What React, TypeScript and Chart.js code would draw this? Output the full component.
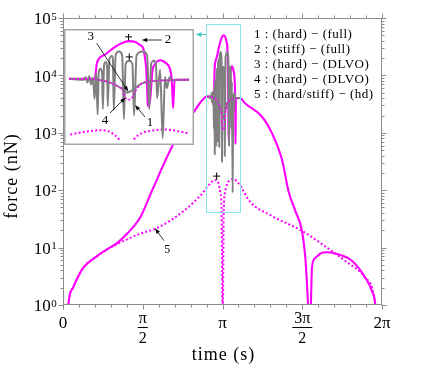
import React, { useEffect, useRef } from 'react';
import { Chart, registerables } from 'chart.js';

Chart.register(...registerables);

// time (rad), force (nN)
// 2 : (stiff) − (full)  — magenta solid (also the common outer curve)
const stiffFull: [number, number][] = [
  [0.09, 0.5], [0.105, 1.0], [0.197, 2.0], [0.394, 4.4], [0.67, 7.1], [0.867, 9.3], [1.064, 12],
  [1.261, 17.4], [1.517, 33], [1.753, 98], [2.167, 617], [2.561, 2190], [2.699, 3310],
  [2.834, 4300], [2.914, 4300], [2.974, 4300], [2.984, 11200], [2.9905, 14450], [3.033, 21400],
  [3.074, 31900], [3.116, 43000], [3.158, 50200], [3.194, 47300], [3.219, 38900], [3.236, 31900],
  [3.244, 19400], [3.253, 7350], [3.258, 1790], [3.261, 720], [3.274, 1160], [3.286, 7350],
  [3.299, 11100], [3.328, 14400], [3.361, 11800], [3.379, 8770], [3.389, 4840], [3.394, 1870],
  [3.398, 640], [3.406, 4050], [3.484, 4050], [3.59, 3240], [3.92, 1905], [4.117, 977],
  [4.314, 339], [4.446, 93], [4.576, 43.7], [4.707, 19.5], [4.773, 6.6], [4.806, 2.3],
  [4.845, 0.5], [4.865, 0.3], [4.904, 4.5], [4.969, 6.6], [5.1, 8.1], [5.2, 8.3], [5.43, 7.6],
  [5.69, 5.9], [5.954, 3.0], [6.086, 1.74], [6.151, 1.0], [6.17, 0.5],
];

// 1 : (hard) − (full) — gray solid
const hardFull: [number, number][] = [
  [2.834, 4300], [2.914, 4050], [2.924, 4840], [2.934, 3380], [2.944, 5130], [2.954, 3010],
  [2.964, 4560], [2.9725, 1160], [2.9815, 6140], [2.989, 421], [2.995, 6500], [3.0055, 8260],
  [3.013, 6500], [3.0175, 601], [3.024, 10500], [3.034, 13000], [3.04, 10000], [3.044, 720],
  [3.053, 15500], [3.0665, 19000], [3.072, 15000], [3.0765, 568], [3.087, 21000], [3.1055, 25600],
  [3.122, 20000], [3.1315, 313], [3.141, 11500], [3.159, 14100], [3.177, 11500], [3.1865, 396],
  [3.2, 20000], [3.234, 25600], [3.257, 20000], [3.269, 601], [3.279, 11500], [3.294, 14100],
  [3.305, 10500], [3.3115, 1230], [3.3275, 7780], [3.3415, 90], [3.354, 4840], [3.364, 2370],
  [3.379, 4840], [3.394, 3810], [3.42, 4050], [3.484, 4050],
];

// 3 : (hard) − (DLVO) — gray solid
const hardDLVO: [number, number][] = [
  [2.834, 4300], [2.989, 4050], [3.039, 3590], [3.079, 3010], [3.114, 2370], [3.134, 1980],
  [3.149, 1760], [3.164, 1870], [3.179, 2100], [3.199, 2510], [3.229, 3190], [3.264, 3590],
  [3.314, 3810], [3.484, 4050],
];

// 4 : (hard) − (DLVO) — magenta
const hardDLVO2: [number, number][] = [
  [2.834, 4300], [2.989, 4050], [3.039, 3590], [3.079, 3010], [3.114, 2370], [3.124, 2100],
  [3.139, 1280], [3.1555, 1110], [3.1725, 1160], [3.1805, 1410], [3.1975, 2100], [3.229, 3190],
  [3.264, 3590], [3.314, 3810], [3.484, 4050],
];

// 5 : (hard/stiff) − (hd) — magenta dotted
const hd: [number, number][] = [
  [0.09, 0.5], [0.105, 1.0], [0.197, 2.0], [0.394, 4.4], [0.67, 7.1], [0.867, 9.3], [1.064, 11.5],
  [1.517, 17.4], [1.852, 21.9], [2.364, 42.7], [2.797, 100], [2.834, 112], [3.008, 151],
  [3.06, 132], [3.1, 89], [3.125, 40], [3.145, 0.3], [3.165, 40], [3.19, 89], [3.23, 126],
  [3.3, 151], [3.36, 158], [3.444, 135], [3.484, 123], [3.683, 63], [4.077, 37], [4.71, 19.5],
  [5.234, 9.5], [5.554, 5.9], [5.95, 3.0], [6.151, 1.0], [6.17, 0.5],
];

const crossMain: [number, number][] = [[3.026, 176]];
const crossInset: [number, number][] = [[3.1565, 66400], [3.1605, 17950]];

const legendLines = [
  '1 : (hard) − (full)',
  '2 : (stiff) − (full)',
  '3 : (hard) − (DLVO)',
  '4 : (hard) − (DLVO)',
  '5 : (hard/stiff) − (hd)',
];
const yExponents = ['0', '1', '2', '3', '4', '5'];

const MAG = '#ff00ff';
const GRAY = '#808080';
const AXIS = '#8c8c8c';
const SERIF = "'Liberation Serif', 'DejaVu Serif', serif";

const xy = (a: [number, number][]) => a.map(([x, y]) => ({ x, y }));

function arrow(ctx: CanvasRenderingContext2D, x1: number, y1: number, x2: number, y2: number, color: string, lw = 0.8, hl = 6, hw = 2.2) {
  const a = Math.atan2(y2 - y1, x2 - x1);
  const c = Math.cos(a), s = Math.sin(a);
  ctx.strokeStyle = color;
  ctx.fillStyle = color;
  ctx.lineWidth = lw;
  ctx.beginPath();
  ctx.moveTo(x1, y1);
  ctx.lineTo(x2 - hl * c * 0.8, y2 - hl * s * 0.8);
  ctx.stroke();
  ctx.beginPath();
  ctx.moveTo(x2, y2);
  ctx.lineTo(x2 - hl * c + hw * s, y2 - hl * s - hw * c);
  ctx.lineTo(x2 - hl * c - hw * s, y2 - hl * s + hw * c);
  ctx.closePath();
  ctx.fill();
}

function datasets(crosses: [number, number][]) {
  const base = { pointRadius: 0, borderWidth: 2.1, cubicInterpolationMode: 'monotone' as const, fill: false };
  return [
    { ...base, data: xy(hd), borderColor: MAG, borderWidth: 2, borderDash: [2, 2.2], order: 5 },
    { ...base, data: xy(stiffFull), borderColor: MAG, order: 4 },
    { ...base, data: xy(hardFull), borderColor: GRAY, borderWidth: 2, order: 3 },
    { ...base, data: xy(hardDLVO), borderColor: GRAY, borderWidth: 2, order: 2 },
    { ...base, data: xy(hardDLVO2), borderColor: MAG, borderWidth: 1.6, borderDash: [2, 2], order: 1 },
    {
      data: xy(crosses), showLine: false, pointStyle: 'cross', pointRadius: 3.5,
      pointBorderColor: '#000', pointBorderWidth: 1, borderColor: '#000', order: 0,
    },
  ];
}

const mainPlugin = {
  id: 'mainDeco',
  afterDraw(chart: any) {
    const ctx: CanvasRenderingContext2D = chart.ctx;
    const ca = chart.chartArea;
    const xs = chart.scales.x;
    const ys = chart.scales.y;
    ctx.save();
    // cyan zoom box
    const bx1 = xs.getPixelForValue(2.82), bx2 = xs.getPixelForValue(3.49);
    const by1 = ys.getPixelForValue(80000), by2 = ys.getPixelForValue(43);
    ctx.strokeStyle = '#8ae4e4';
    ctx.lineWidth = 1;
    ctx.strokeRect(Math.round(bx1) + 0.5, Math.round(by1) + 0.5, Math.round(bx2 - bx1), Math.round(by2 - by1));
    arrow(ctx, Math.round(bx1), 34.5, 195.5, 34.5, '#40c8c8', 0.9, 6, 2.2);

    // frame
    ctx.strokeStyle = AXIS;
    ctx.lineWidth = 1;
    const L = Math.round(ca.left) + 0.5, R = Math.round(ca.right) - 0.5;
    const T = Math.round(ca.top) + 0.5, B = Math.round(ca.bottom) - 0.5;
    ctx.strokeRect(L, T, R - L, B - T);
    // x ticks
    ctx.beginPath();
    for (let k = 0; k <= 20; k++) {
      const px = Math.round(xs.getPixelForValue((k * Math.PI) / 10)) + 0.5;
      const len = k % 5 === 0 ? 5 : 3;
      ctx.moveTo(px, B); ctx.lineTo(px, B + len);
      ctx.moveTo(px, T); ctx.lineTo(px, T - len);
    }
    // y ticks
    for (let e = 0; e <= 5; e++) {
      for (let m = 1; m <= 9; m++) {
        if (e === 5 && m > 1) break;
        const py = Math.round(ys.getPixelForValue(m * Math.pow(10, e))) + 0.5;
        const len = m === 1 ? 5 : 3;
        ctx.moveTo(L, py); ctx.lineTo(L - len, py);
        ctx.moveTo(R, py); ctx.lineTo(R + len, py);
      }
    }
    ctx.stroke();

    // y tick labels
    ctx.fillStyle = '#000';
    ctx.textAlign = 'right';
    ctx.textBaseline = 'alphabetic';
    yExponents.forEach((ex, i) => {
      const py = ys.getPixelForValue(Math.pow(10, i));
      ctx.font = `11px ${SERIF}`;
      ctx.fillText(ex, 56.7, py + 1.8);
      ctx.font = `17px ${SERIF}`;
      ctx.fillText('10', 50.8, py + 6.2);
    });

    // x tick labels
    ctx.textAlign = 'center';
    ctx.font = `17px ${SERIF}`;
    const xl = (v: number) => xs.getPixelForValue(v);
    ctx.fillText('0', xl(0), 327.7);
    ctx.fillText('π', xl(Math.PI), 327.7);
    ctx.fillText('2π', xl(2 * Math.PI), 327.7);
    const frac = (v: number, num: string, barW: number) => {
      const cx = xl(v);
      ctx.font = `16px ${SERIF}`;
      ctx.fillText(num, cx, 322.7);
      ctx.fillText('2', cx, 342.7);
      ctx.fillRect(cx - barW / 2, 327, barW, 1);
    };
    frac(Math.PI / 2, 'π', 10);
    frac((3 * Math.PI) / 2, '3π', 20);

    // axis titles
    ctx.font = `18px ${SERIF}`;
    (ctx as any).letterSpacing = '1px';
    ctx.fillText('time (s)', (ca.left + ca.right) / 2 + 1, 359.5);
    ctx.save();
    ctx.translate(17, 176);
    ctx.rotate(-Math.PI / 2);
    ctx.fillText('force (nN)', 0, 0);
    ctx.restore();

    // legend text
    ctx.font = `13px ${SERIF}`;
    (ctx as any).letterSpacing = '0.5px';
    ctx.textAlign = 'left';
    ctx.textBaseline = 'middle';
    legendLines.forEach((t, i) => ctx.fillText(t, 254, 34.5 + i * 15.1));
    (ctx as any).letterSpacing = '0px';

    // annotation 5
    ctx.font = `12px ${SERIF}`;
    ctx.textAlign = 'center';
    ctx.fillText('5', 167.3, 249.5);
    arrow(ctx, 164, 240.7, 155, 228.3, '#000', 0.8, 5.5, 2);
    ctx.restore();
  },
};

const insetPlugin = {
  id: 'insetDeco',
  beforeDraw(chart: any) {
    const ctx = chart.ctx;
    ctx.save();
    ctx.fillStyle = '#fff';
    ctx.fillRect(0, 0, chart.width, chart.height);
    ctx.restore();
  },
  afterDraw(chart: any) {
    const ctx: CanvasRenderingContext2D = chart.ctx;
    ctx.save();
    ctx.fillStyle = '#000';
    ctx.font = `13px ${SERIF}`;
    ctx.textAlign = 'center';
    ctx.textBaseline = 'middle';
    ctx.fillText('3', 26.8, 8);
    arrow(ctx, 32.7, 14.3, 64.3, 62.5, '#000', 0.8, 5.5, 2);
    ctx.fillText('2', 104, 11);
    arrow(ctx, 97.7, 11, 77.7, 11, '#000', 0.8, 5.5, 2);
    ctx.fillText('4', 41, 92);
    arrow(ctx, 46, 84, 61.5, 68.5, '#000', 0.8, 5.5, 2);
    ctx.fillText('1', 86, 94);
    arrow(ctx, 81, 88, 71, 76, '#000', 0.8, 5.5, 2);
    ctx.strokeStyle = '#a6a6a6';
    ctx.lineWidth = 1.5;
    ctx.strokeRect(0.75, 0.75, chart.width - 1.5, chart.height - 1.5);
    ctx.restore();
  },
};

export default function App() {
  const mainRef = useRef<HTMLCanvasElement>(null);
  const insetRef = useRef<HTMLCanvasElement>(null);

  useEffect(() => {
    const common = {
      responsive: false,
      animation: false as const,
      devicePixelRatio: 1,
      events: [] as any[],
      plugins: { legend: { display: false }, tooltip: { enabled: false } },
    };
    const main = new Chart(mainRef.current as HTMLCanvasElement, {
      type: 'line',
      data: { datasets: datasets(crossMain) as any },
      options: {
        ...common,
        layout: { padding: { left: 63, right: 42, top: 18, bottom: 77 } },
        scales: {
          x: { type: 'linear', min: 0, max: 2 * Math.PI, display: false },
          y: { type: 'logarithmic', min: 1, max: 100000, display: false },
        },
      } as any,
      plugins: [mainPlugin],
    });
    const inset = new Chart(insetRef.current as HTMLCanvasElement, {
      type: 'line',
      data: { datasets: datasets(crossInset) as any },
      options: {
        ...common,
        layout: { padding: 0 },
        scales: {
          x: { type: 'linear', min: 2.834, max: 3.484, display: false },
          y: { type: 'logarithmic', min: 80, max: 80000, display: false },
        },
      } as any,
      plugins: [insetPlugin],
    });
    return () => {
      main.destroy();
      inset.destroy();
    };
  }, []);

  return (
    <div style={{ position: 'fixed', left: 0, top: 0, width: 424, height: 382, background: '#fff' }}>
      <canvas ref={mainRef} width={424} height={382} style={{ position: 'absolute', left: 0, top: 0, width: 424, height: 382 }} />
      <canvas ref={insetRef} width={130} height={116} style={{ position: 'absolute', left: 64, top: 29, width: 130, height: 116 }} />
    </div>
  );
}
